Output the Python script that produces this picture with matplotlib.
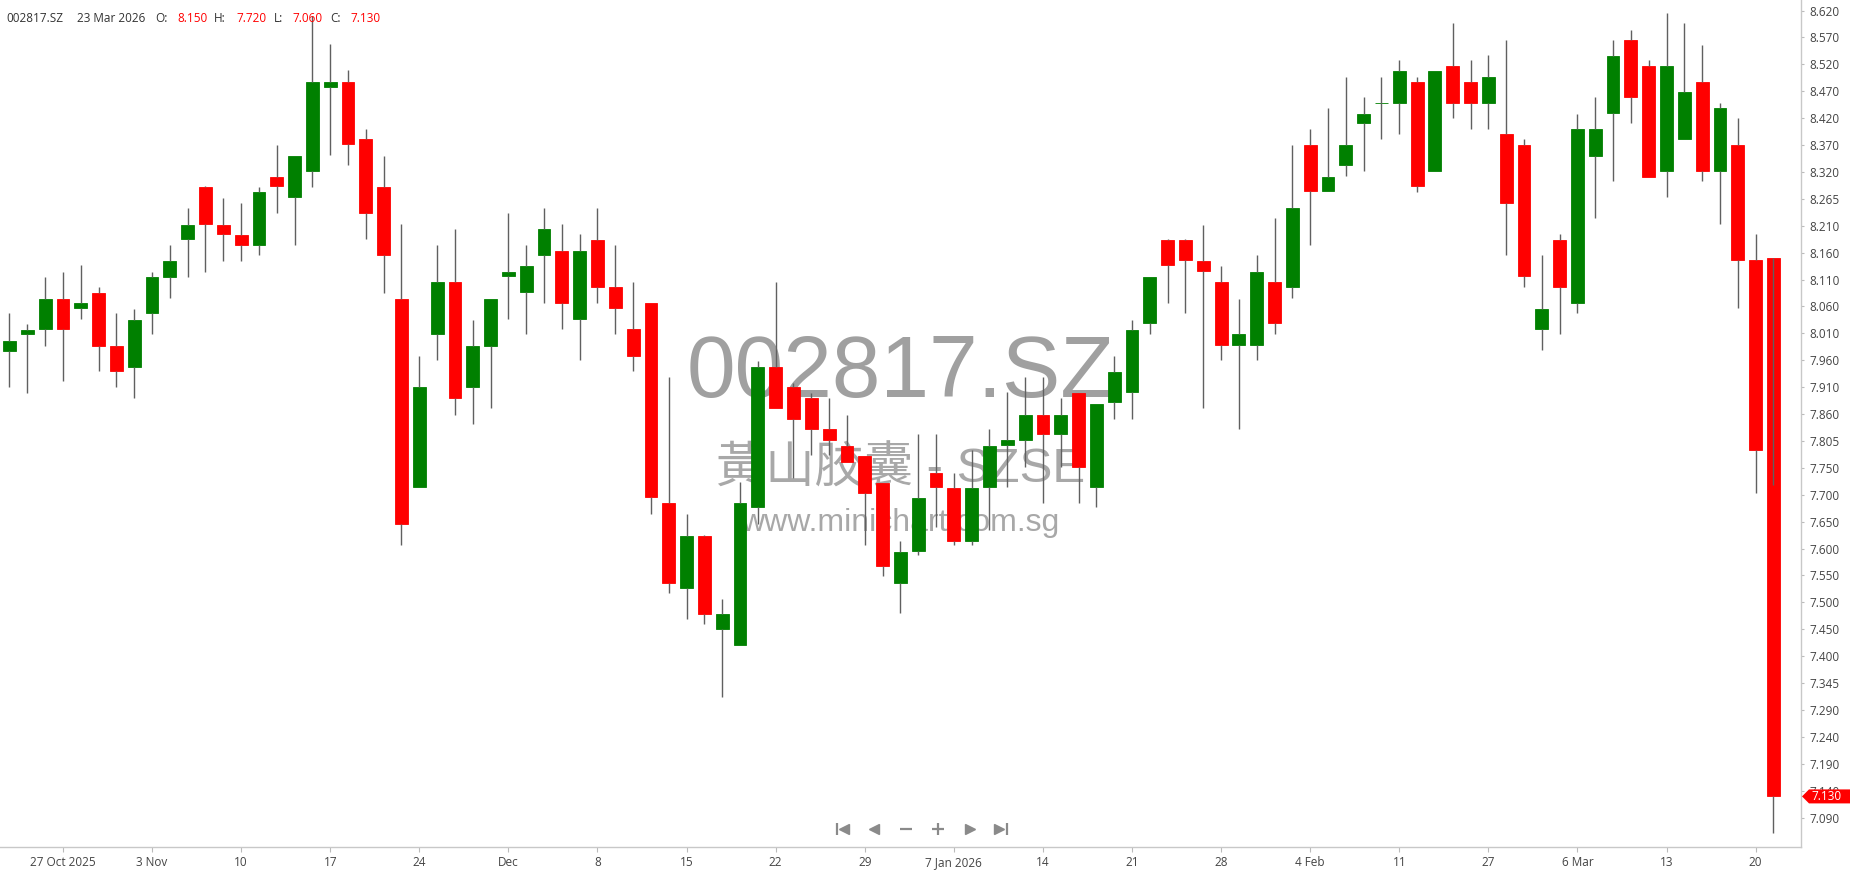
import matplotlib
matplotlib.use("Agg")
import matplotlib.pyplot as plt
import matplotlib.transforms as mtransforms
from matplotlib.patches import Polygon
from matplotlib.lines import Line2D
import numpy as np

plt.rcParams['font.family'] = ['Open Sans', 'DejaVu Sans']

# daily OHLC, 22 Oct 2025 .. 23 Mar 2026
opens = [7.975, 8.007, 8.016, 8.074, 8.057, 8.084, 7.984, 7.945, 8.047, 8.115,
         8.186, 8.286, 8.214, 8.195, 8.176, 8.305, 8.266, 8.315, 8.476, 8.484,
         8.376, 8.286, 8.074, 7.716, 8.007, 8.105, 7.907, 7.984, 8.117, 8.086,
         8.156, 8.165, 8.035, 8.185, 8.095, 8.016, 8.065, 7.686, 7.525, 7.624,
         7.448, 7.417, 7.678, 7.944, 7.907, 7.885, 7.826, 7.795, 7.776, 7.725,
         7.535, 7.596, 7.744, 7.715, 7.615, 7.716, 7.796, 7.806, 7.853, 7.817,
         7.894, 7.716, 7.878, 7.896, 8.027, 8.185, 8.185, 8.146, 8.105, 7.985,
         7.985, 8.105, 8.096, 8.366, 8.277, 8.327, 8.406, 8.445, 8.445, 8.484,
         8.315, 8.515, 8.484, 8.445, 8.386, 8.366, 8.016, 8.185, 8.066, 8.345,
         8.425, 8.565, 8.515, 8.315, 8.377, 8.484, 8.315, 8.366, 8.147, 8.150]
highs = [8.046, 8.025, 8.115, 8.125, 8.137, 8.095, 8.046, 8.055, 8.125, 8.175,
         8.246, 8.288, 8.265, 8.255, 8.286, 8.366, 8.344, 8.610, 8.556, 8.507,
         8.395, 8.344, 8.215, 7.965, 8.175, 8.205, 8.034, 8.074, 8.236, 8.175,
         8.246, 8.215, 8.196, 8.246, 8.175, 8.105, 8.066, 7.925, 7.665, 7.626,
         7.505, 7.726, 7.955, 8.105, 7.914, 7.894, 7.885, 7.854, 7.776, 7.725,
         7.615, 7.817, 7.817, 7.744, 7.786, 7.826, 7.896, 7.925, 7.925, 7.885,
         7.894, 7.875, 7.965, 8.034, 8.114, 8.187, 8.187, 8.214, 8.136, 8.074,
         8.156, 8.226, 8.366, 8.395, 8.435, 8.494, 8.456, 8.494, 8.526, 8.494,
         8.506, 8.596, 8.526, 8.535, 8.565, 8.376, 8.156, 8.196, 8.424, 8.456,
         8.565, 8.584, 8.526, 8.616, 8.596, 8.555, 8.444, 8.416, 8.196, 7.720]
lows = [7.907, 7.894, 7.984, 7.917, 8.035, 7.936, 7.907, 7.886, 8.007, 8.075,
        8.115, 8.125, 8.146, 8.146, 8.156, 8.236, 8.176, 8.286, 8.346, 8.327,
        8.186, 8.085, 7.606, 7.716, 7.957, 7.854, 7.836, 7.867, 8.035, 8.007,
        8.066, 8.016, 7.957, 8.066, 8.007, 7.936, 7.666, 7.515, 7.466, 7.457,
        7.318, 7.417, 7.647, 7.867, 7.734, 7.777, 7.777, 7.765, 7.606, 7.548,
        7.477, 7.588, 7.641, 7.606, 7.606, 7.636, 7.716, 7.755, 7.687, 7.755,
        7.687, 7.678, 7.846, 7.846, 8.007, 8.066, 8.047, 7.867, 7.957, 7.827,
        7.957, 8.007, 8.075, 8.176, 8.277, 8.306, 8.315, 8.377, 8.386, 8.276,
        8.315, 8.416, 8.396, 8.396, 8.157, 8.096, 7.977, 8.007, 8.047, 8.226,
        8.296, 8.406, 8.305, 8.266, 8.377, 8.296, 8.215, 8.056, 7.706, 7.060]
closes = [7.994, 8.015, 8.074, 8.016, 8.065, 7.984, 7.936, 8.034, 8.114, 8.146,
          8.214, 8.215, 8.196, 8.176, 8.276, 8.287, 8.344, 8.484, 8.484, 8.367,
          8.237, 8.156, 7.647, 7.907, 8.105, 7.886, 7.984, 8.074, 8.124, 8.136,
          8.205, 8.066, 8.165, 8.096, 8.057, 7.966, 7.697, 7.535, 7.624, 7.476,
          7.475, 7.686, 7.944, 7.867, 7.846, 7.827, 7.806, 7.765, 7.706, 7.567,
          7.594, 7.696, 7.716, 7.615, 7.715, 7.795, 7.805, 7.853, 7.817, 7.853,
          7.755, 7.875, 7.935, 8.015, 8.114, 8.138, 8.147, 8.126, 7.985, 8.006,
          8.124, 8.027, 8.245, 8.277, 8.304, 8.366, 8.424, 8.445, 8.506, 8.287,
          8.506, 8.445, 8.445, 8.494, 8.256, 8.117, 8.055, 8.096, 8.395, 8.395,
          8.534, 8.456, 8.305, 8.515, 8.465, 8.315, 8.435, 8.147, 7.787, 7.130]

date_ticks = [3, 8, 13, 18, 23, 28, 33, 38, 43, 48, 53, 58, 63, 68, 73, 78, 83, 88, 93, 98]
date_labels = ['27 Oct 2025', '3 Nov', '10', '17', '24', 'Dec', '8', '15', '22', '29',
               '7 Jan 2026', '14', '21', '28', '4 Feb', '11', '27', '6 Mar', '13', '20']
price_labels = ['7.090', '7.140', '7.190', '7.240', '7.290', '7.345', '7.400', '7.450',
                '7.500', '7.550', '7.600', '7.650', '7.700', '7.750', '7.805', '7.860',
                '7.910', '7.960', '8.010', '8.060', '8.110', '8.160', '8.210', '8.265',
                '8.320', '8.370', '8.420', '8.470', '8.520', '8.570', '8.620']

symbol = '002817.SZ'
last_date = '23 Mar 2026'
name_line = '黃山胶囊 - SZSE'
site = 'www.minichart.com.sg'

W, H = 1850, 874
fig = plt.figure(figsize=(W / 100, H / 100), dpi=100)
ax = fig.add_axes([0, 26.7 / H, 1800.7 / W, 847.3 / H])

o = np.array(opens)
h = np.array(highs)
l = np.array(lows)
c = np.array(closes)
x = np.arange(len(o))
up = c >= o
colors = np.where(up, '#008000', '#ff0000')
top = np.maximum(o, c)
bot = np.minimum(o, c)

ax.bar(x, top - bot, bottom=bot, width=0.72, color=colors, edgecolor=colors,
       linewidth=0.6, zorder=2)
ax.vlines(x, top, h, color='#606060', linewidth=1.0, zorder=3)
ax.vlines(x, bot, l, color='#606060', linewidth=1.0, zorder=3)

ax.set_xlim(-0.533, 100.53)
ax.set_ylim(7.0335, 8.6401)

# watermark
ax.text(0.5, 0.5315, symbol, transform=ax.transAxes, ha='center', va='baseline',
        fontsize=63, color='#a0a0a0', family='Liberation Sans', zorder=0.5)
ax.text(0.5, 0.431, name_line, transform=ax.transAxes, ha='center', va='baseline',
        fontsize=35.5, color='#a8a8a8', family=['Liberation Sans', 'Noto Sans CJK TC'],
        zorder=0.5)
ax.text(0.5, 0.373, site, transform=ax.transAxes, ha='center', va='baseline',
        fontsize=23, color='#a8a8a8', family='Liberation Sans', zorder=0.5)

# axes styling
for side in ['left', 'top']:
    ax.spines[side].set_visible(False)
for side in ['right', 'bottom']:
    ax.spines[side].set_color('#c8c8c8')
    ax.spines[side].set_linewidth(1.0)

ax.yaxis.tick_right()
ax.set_yticks(np.linspace(7.09, 8.62, len(price_labels)))
ax.set_yticklabels(price_labels)
ax.tick_params(axis='y', length=2.5, width=0.8, color='#bbbbbb', pad=4,
               labelsize=8.5, labelcolor='#444444')
ax.set_xticks(date_ticks)
ax.set_xticklabels(date_labels)
ax.tick_params(axis='x', length=3.5, width=0.8, color='#bbbbbb', pad=3,
               labelsize=8.5, labelcolor='#444444')

# last price tag
trans = mtransforms.blended_transform_factory(ax.transAxes, ax.transData)
last = closes[-1]
hh = 7.0 / 527.4
x0, xb, x1 = 1802 / 1800.7, 1809 / 1800.7, 1850 / 1800.7
tag = Polygon([(x0, last), (xb, last + hh), (x1, last + hh), (x1, last - hh), (xb, last - hh)],
              closed=True, transform=trans, clip_on=False, facecolor='#ff0000',
              edgecolor='none', zorder=10)
ax.add_patch(tag)
ax.text(1811 / 1800.7, last, f'{last:.3f}', transform=trans, ha='left', va='center',
        fontsize=8.5, color='white', zorder=11, clip_on=False)

# header line
yh = 1 - 18 / H
parts = [(6, symbol, '#333333'), (77, last_date, '#333333'),
         (155, 'O:', '#333333'), (177, f'{opens[-1]:.3f}', '#ff0000'),
         (214, 'H:', '#333333'), (236, f'{highs[-1]:.3f}', '#ff0000'),
         (274, 'L:', '#333333'), (292, f'{lows[-1]:.3f}', '#ff0000'),
         (330, 'C:', '#333333'), (350, f'{closes[-1]:.3f}', '#ff0000')]
for px, s, col in parts:
    fig.text(px / W, yh, s, ha='left', va='center', fontsize=8.5, color=col)

# navigation buttons
yn = 1 - 829 / H
nav = '#8a8a8a'
def nav_mark(px, marker, size, mew=1.0):
    fig.add_artist(Line2D([px / W], [yn], marker=marker, markersize=size, color=nav,
                          markeredgewidth=mew, linestyle='none',
                          transform=fig.transFigure))

nav_mark(836.5, '|', 8, 1.6)
nav_mark(843.5, '<', 6.5)
nav_mark(874, '<', 6.5)
nav_mark(905.5, '_', 9, 1.6)
nav_mark(937.5, '+', 9, 1.6)
nav_mark(969.5, '>', 6.5)
nav_mark(999, '>', 6.5)
nav_mark(1007, '|', 8, 1.6)

fig.savefig('out.png', dpi=100)
